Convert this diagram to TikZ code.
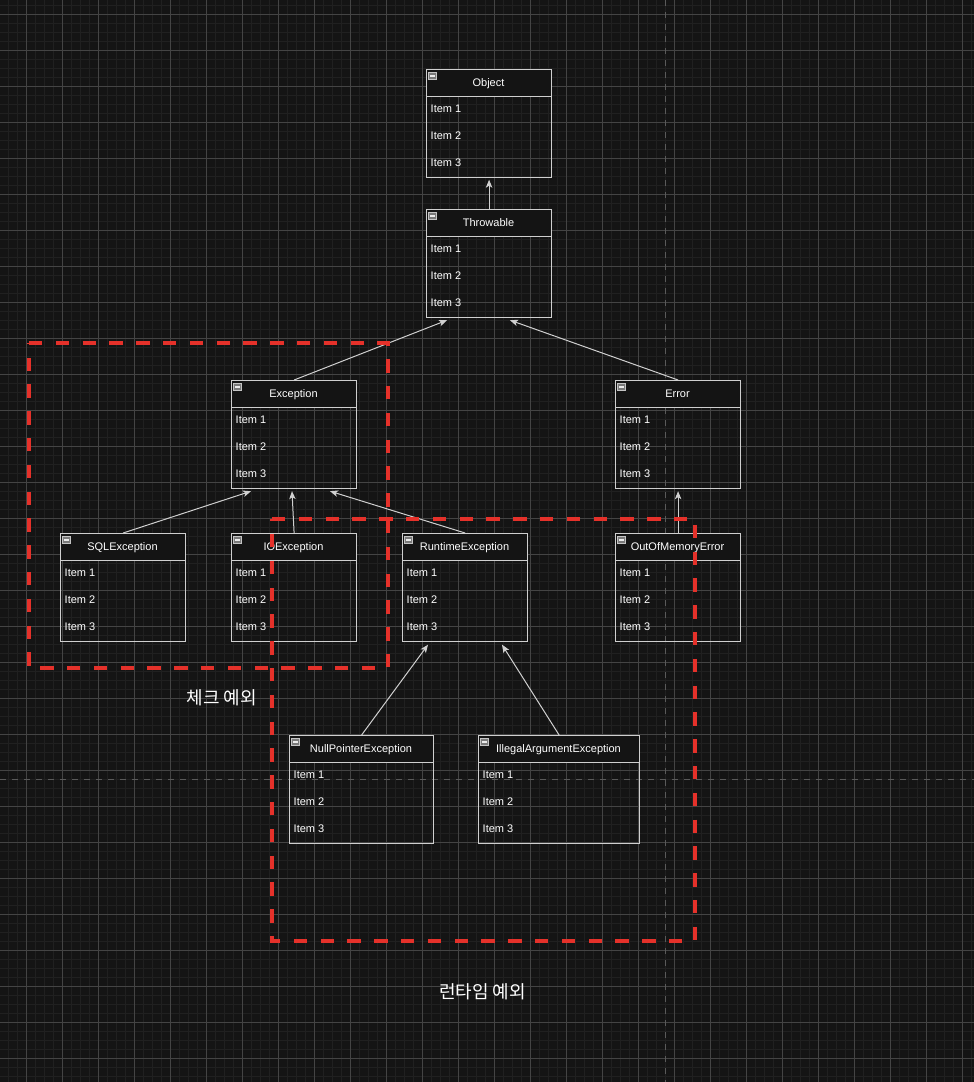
\documentclass[tikz,border=0pt]{standalone}
\usepackage{fontspec}
\setmainfont{Liberation Sans}
\newfontfamily\krfont{Noto Sans CJK KR}
\usetikzlibrary{arrows.meta,calc}
\definecolor{bgc}{HTML}{141414}
\definecolor{minorc}{HTML}{202020}
\definecolor{majorc}{HTML}{444444}
\definecolor{boxc}{HTML}{CFCFCF}
\definecolor{arrc}{HTML}{D0D0D0}
\definecolor{redc}{HTML}{E5312A}
\definecolor{pbc}{HTML}{5A5A5A}
\definecolor{iconfill}{HTML}{7A7A7A}
\definecolor{iconline}{HTML}{C4C4C4}
\tikzset{
  minorline/.style={draw=minorc, line width=1pt},
  majorline/.style={draw=majorc, line width=1pt},
  pagebreak/.style={draw=pbc, line width=1pt, dash pattern=on 6pt off 6pt},
  classbody/.style={draw=boxc, line width=1.2pt, inner sep=0pt, minimum height=108pt, rectangle},
  classhead/.style={draw=boxc, fill=bgc, line width=1.2pt, inner sep=0pt, minimum height=27pt, rectangle},
  titletext/.style={inner sep=0pt, text=white, font=\fontsize{11}{13}\selectfont, anchor=base},
  itemtext/.style={inner sep=0pt, text=white, font=\fontsize{11}{13}\selectfont, anchor=base west},
  iconbox/.style={draw=iconline, fill=iconfill, line width=0.9pt, inner sep=0pt, minimum width=8pt, minimum height=7pt, rectangle},
  iconbar/.style={draw=white!92!black, line width=1.1pt},
  arr/.style={draw=arrc, line width=1pt, -{Stealth[length=8pt,width=6.5pt,inset=2pt]}},
  redbox/.style={draw=redc, line width=4pt, dash pattern=on 13.4pt off 13.4pt},
  krlabel/.style={inner sep=0pt, text=white, font=\krfont\fontsize{18}{21}\selectfont},
}
\newcommand\umlbox[5]{%
  \node[classbody, minimum width=#4pt, anchor=north west] (#1) at (#2,#3) {};
  \node[classhead, minimum width=#4pt, anchor=north west] (#1-h) at (#2,#3) {};
  \node[titletext] (#1-t) at (#2+#4/2,#3+17.4) {#5};
  \node[iconbox] (#1-ic) at (#2+6.5,#3+7) {};
  \draw[iconbar] ($(#1-ic.west)+(1.8,0)$) -- ($(#1-ic.east)+(-1.8,0)$);
  \node[itemtext] (#1-i1) at (#2+4.5,#3+43.9) {Item 1};
  \node[itemtext] (#1-i2) at (#2+4.5,#3+70.9) {Item 2};
  \node[itemtext] (#1-i3) at (#2+4.5,#3+97.9) {Item 3};
}
\begin{document}
\begin{tikzpicture}[x=1pt,y=-1pt]
\fill[bgc] (0,0) rectangle (974,1082);
\useasboundingbox (0,0) rectangle (974,1082);
% grid
\foreach \i in {0,...,107} { \draw[minorline] (8.3+9*\i,0) -- (8.3+9*\i,1082); }
\foreach \i in {0,...,120} { \draw[minorline] (0,5.3+9*\i) -- (974,5.3+9*\i); }
\foreach \i in {0,...,26} { \draw[majorline] (26.3+36*\i,0) -- (26.3+36*\i,1082); }
\foreach \i in {0,...,29} { \draw[majorline] (0,14.3+36*\i) -- (974,14.3+36*\i); }
% page breaks
\draw[pagebreak] (665,0) -- (665,1082);
\draw[pagebreak] (0,779) -- (974,779);
% classes
\umlbox{object}{426}{69}{125}{Object}
\umlbox{throwable}{426}{209}{125}{Throwable}
\umlbox{exception}{231}{380}{125}{Exception}
\umlbox{error}{615}{380}{125}{Error}
\umlbox{sql}{60}{533}{125}{SQLException}
\umlbox{io}{231}{533}{125}{IOException}
\umlbox{runtime}{402}{533}{125}{RuntimeException}
\umlbox{oom}{615}{533}{125}{OutOfMemoryError}
\umlbox{npe}{289}{735}{144}{NullPointerException}
\umlbox{iae}{478}{735}{161}{IllegalArgumentException}
% connectors
\draw[arr] (throwable.north) -- ($(object.south)+(0,1.5)$);
\draw[arr] (exception.north) -- ($(throwable.south west)+(21,2)$);
\draw[arr] (error.north) -- ($(throwable.south west)+(84,2)$);
\draw[arr] (sql.north) -- ($(exception.south west)+(20,2)$);
\draw[arr] (io.north) -- ($(exception.south west)+(61,2)$);
\draw[arr] (runtime.north) -- ($(exception.south west)+(99,2)$);
\draw[arr] (oom.north) -- ($(error.south)+(0,2)$);
\draw[arr] (npe.north) -- ($(runtime.south west)+(26,2.5)$);
\draw[arr] (iae.north) -- ($(runtime.south west)+(100,2.5)$);
% groups
\draw[redbox] (29,343) -- (388,343) -- (388,668) -- (29,668) -- cycle;
\draw[redbox] (272,519) -- (695,519) -- (695,941) -- (272,941) -- cycle;
\node[krlabel] (checked) at (222,698) {체크 예외};
\node[krlabel] (rtlabel) at (482.5,992) {런타임 예외};
\end{tikzpicture}
\end{document}
